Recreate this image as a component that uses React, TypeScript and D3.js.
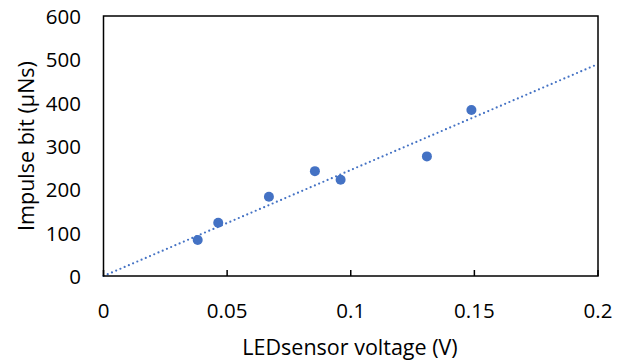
import React from "react";
import * as d3 from "d3";

const voltage = [0.0381, 0.0464, 0.0669, 0.0855, 0.0959, 0.1308, 0.1488];
const impulse = [83, 123, 183, 242, 222, 276, 383];
const xTicks = [0, 0.05, 0.1, 0.15, 0.2];
const yTicks = [0, 100, 200, 300, 400, 500, 600];
const trendSlope = 2446; // through origin

const W = 630, H = 360;
const M = { left: 103.5, right: 598, top: 16, bottom: 276 };
const FONT = "'Open Sans', 'Noto Sans', sans-serif";
const COLOR = "#4472C4";

export default function App() {
  const x = d3.scaleLinear().domain([0, 0.2]).range([M.left, M.right]);
  const y = d3.scaleLinear().domain([0, 600]).range([M.bottom, M.top]);
  const line = d3.line<number>().x((v) => x(v)).y((v) => y(trendSlope * v));
  const trendPts = [0, 0.2];
  return (
    <svg width={W} height={H} style={{ position: "absolute", left: 0, top: 0, background: "#fff" }}>
      <rect x={0} y={0} width={W} height={H} fill="#fff" />
      <path d={line(trendPts) || ""} fill="none" stroke={COLOR} strokeWidth={2.2}
        strokeDasharray="0 4.6" strokeLinecap="round" />
      {voltage.map((v, i) => (
        <circle key={i} cx={x(v)} cy={y(impulse[i])} r={5} fill={COLOR} />
      ))}
      <rect x={M.left} y={M.top} width={M.right - M.left} height={M.bottom - M.top}
        fill="none" stroke="#000" strokeWidth={1.5} />
      {xTicks.map((t) => (
        <g key={t}>
          <line x1={x(t)} x2={x(t)} y1={M.bottom} y2={M.bottom - 6} stroke="#000" strokeWidth={1.5} />
          <text x={x(t)} y={310} textAnchor="middle" dominantBaseline="central"
            fontFamily={FONT} fontSize={20.5} fill="#000">{t}</text>
        </g>
      ))}
      {yTicks.map((t) => (
        <text key={t} x={81} y={y(t)} textAnchor="end" dominantBaseline="central"
          fontFamily={FONT} fontSize={20.5} fill="#000">{t}</text>
      ))}
      <text x={350} y={346} textAnchor="middle" dominantBaseline="central"
        fontFamily={FONT} fontSize={21.5} fill="#000">LEDsensor voltage (V)</text>
      <text transform={`translate(25,${146}) rotate(-90)`} textAnchor="middle" dominantBaseline="central"
        fontFamily={FONT} fontSize={21.5} fill="#000">Impulse bit (µNs)</text>
    </svg>
  );
}
